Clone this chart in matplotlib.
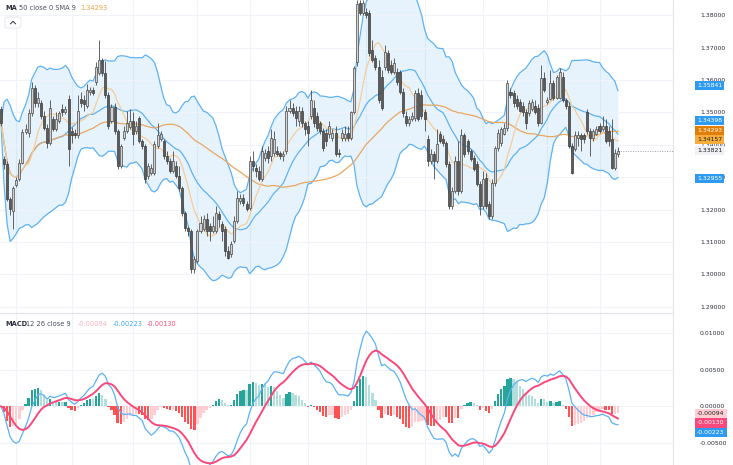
import numpy as np
import pandas as pd
import matplotlib
matplotlib.use("Agg")
import matplotlib.pyplot as plt
from matplotlib.transforms import blended_transform_factory
from matplotlib.patches import FancyBboxPatch
from matplotlib.lines import Line2D

# candles, oldest first
opens = [1.3512, 1.3357, 1.3342, 1.3233, 1.3196, 1.3277, 1.3295, 1.3345, 1.3441, 1.3438,
         1.3497, 1.3574, 1.3528, 1.3528, 1.3490, 1.3453, 1.3407, 1.3481, 1.3450, 1.3475,
         1.3512, 1.3500, 1.3543, 1.3444, 1.3438, 1.3429, 1.3543, 1.3537, 1.3521, 1.3562,
         1.3568, 1.3593, 1.3621, 1.3661, 1.3621, 1.3553, 1.3475, 1.3518, 1.3444, 1.3336,
         1.3422, 1.3444, 1.3456, 1.3475, 1.3444, 1.3484, 1.3413, 1.3398, 1.3305, 1.3314,
         1.3314, 1.3398, 1.3419, 1.3413, 1.3366, 1.3351, 1.3320, 1.3336, 1.3305, 1.3267,
         1.3190, 1.3143, 1.3134, 1.3016, 1.3041, 1.3134, 1.3140, 1.3171, 1.3150, 1.3134,
         1.3134, 1.3187, 1.3156, 1.3140, 1.3072, 1.3063, 1.3103, 1.3165, 1.3227, 1.3236,
         1.3218, 1.3205, 1.3351, 1.3329, 1.3320, 1.3295, 1.3360, 1.3382, 1.3366, 1.3376,
         1.3382, 1.3376, 1.3366, 1.3382, 1.3506, 1.3515, 1.3506, 1.3475, 1.3506, 1.3466,
         1.3459, 1.3490, 1.3515, 1.3490, 1.3466, 1.3444, 1.3438, 1.3435, 1.3422, 1.3438,
         1.3376, 1.3422, 1.3422, 1.3438, 1.3422, 1.3500, 1.3655, 1.3838, 1.3807, 1.3810,
         1.3807, 1.3692, 1.3667, 1.3639, 1.3608, 1.3639, 1.3683, 1.3646, 1.3624, 1.3624,
         1.3624, 1.3562, 1.3490, 1.3466, 1.3481, 1.3484, 1.3559, 1.3553, 1.3500, 1.3419,
         1.3351, 1.3373, 1.3351, 1.3435, 1.3419, 1.3407, 1.3342, 1.3212, 1.3258, 1.3351,
         1.3258, 1.3429, 1.3413, 1.3382, 1.3360, 1.3342, 1.3280, 1.3212, 1.3298, 1.3218,
         1.3181, 1.3283, 1.3391, 1.3407, 1.3435, 1.3453, 1.3562, 1.3559, 1.3543, 1.3531,
         1.3521, 1.3500, 1.3497, 1.3512, 1.3521, 1.3515, 1.3469, 1.3605, 1.3531, 1.3543,
         1.3590, 1.3546, 1.3546, 1.3608, 1.3537, 1.3521, 1.3398, 1.3388, 1.3422, 1.3429,
         1.3429, 1.3500, 1.3444, 1.3422, 1.3435, 1.3459, 1.3450, 1.3459, 1.3444, 1.3419,
         1.3329, 1.3373]
highs = [1.3521, 1.3366, 1.3351, 1.3239, 1.3273, 1.3301, 1.3357, 1.3450, 1.3463, 1.3512,
         1.3593, 1.3584, 1.3562, 1.3537, 1.3506, 1.3463, 1.3537, 1.3490, 1.3500, 1.3506,
         1.3525, 1.3521, 1.3553, 1.3456, 1.3450, 1.3553, 1.3562, 1.3553, 1.3587, 1.3580,
         1.3580, 1.3655, 1.3723, 1.3667, 1.3658, 1.3562, 1.3525, 1.3528, 1.3450, 1.3404,
         1.3459, 1.3506, 1.3512, 1.3500, 1.3475, 1.3490, 1.3419, 1.3404, 1.3345, 1.3342,
         1.3413, 1.3469, 1.3444, 1.3419, 1.3382, 1.3360, 1.3382, 1.3351, 1.3336, 1.3273,
         1.3196, 1.3150, 1.3140, 1.3057, 1.3140, 1.3181, 1.3184, 1.3190, 1.3159, 1.3181,
         1.3212, 1.3196, 1.3165, 1.3150, 1.3088, 1.3103, 1.3181, 1.3258, 1.3249, 1.3249,
         1.3227, 1.3366, 1.3382, 1.3342, 1.3336, 1.3398, 1.3388, 1.3398, 1.3450, 1.3444,
         1.3398, 1.3382, 1.3382, 1.3521, 1.3537, 1.3528, 1.3521, 1.3521, 1.3518, 1.3475,
         1.3475, 1.3568, 1.3537, 1.3500, 1.3475, 1.3453, 1.3450, 1.3475, 1.3450, 1.3459,
         1.3388, 1.3450, 1.3459, 1.3459, 1.3506, 1.3642, 1.3847, 1.3847, 1.3847, 1.3822,
         1.3816, 1.3723, 1.3677, 1.3661, 1.3630, 1.3708, 1.3692, 1.3661, 1.3667, 1.3636,
         1.3630, 1.3574, 1.3506, 1.3490, 1.3500, 1.3568, 1.3574, 1.3568, 1.3512, 1.3429,
         1.3388, 1.3382, 1.3450, 1.3444, 1.3429, 1.3413, 1.3351, 1.3270, 1.3366, 1.3413,
         1.3450, 1.3438, 1.3419, 1.3388, 1.3370, 1.3351, 1.3289, 1.3320, 1.3314, 1.3227,
         1.3295, 1.3398, 1.3450, 1.3456, 1.3469, 1.3599, 1.3574, 1.3568, 1.3553, 1.3543,
         1.3531, 1.3512, 1.3537, 1.3543, 1.3537, 1.3525, 1.3646, 1.3624, 1.3549, 1.3630,
         1.3599, 1.3615, 1.3636, 1.3624, 1.3546, 1.3531, 1.3407, 1.3444, 1.3444, 1.3438,
         1.3438, 1.3512, 1.3453, 1.3450, 1.3459, 1.3469, 1.3490, 1.3481, 1.3459, 1.3481,
         1.3388, 1.3394]
lows = [1.3459, 1.3326, 1.3227, 1.3184, 1.3140, 1.3270, 1.3289, 1.3342, 1.3432, 1.3425,
        1.3490, 1.3518, 1.3518, 1.3481, 1.3447, 1.3391, 1.3401, 1.3444, 1.3444, 1.3469,
        1.3490, 1.3494, 1.3336, 1.3407, 1.3422, 1.3422, 1.3518, 1.3506, 1.3515, 1.3553,
        1.3553, 1.3584, 1.3615, 1.3612, 1.3546, 1.3450, 1.3469, 1.3432, 1.3326, 1.3329,
        1.3416, 1.3438, 1.3450, 1.3401, 1.3432, 1.3407, 1.3388, 1.3283, 1.3295, 1.3308,
        1.3308, 1.3391, 1.3413, 1.3357, 1.3342, 1.3314, 1.3314, 1.3298, 1.3258, 1.3181,
        1.3134, 1.3119, 1.3004, 1.3004, 1.3035, 1.3128, 1.3134, 1.3119, 1.3103, 1.3128,
        1.3128, 1.3146, 1.3103, 1.3057, 1.3047, 1.3054, 1.3097, 1.3159, 1.3218, 1.3212,
        1.3196, 1.3199, 1.3320, 1.3301, 1.3289, 1.3289, 1.3351, 1.3345, 1.3351, 1.3366,
        1.3366, 1.3357, 1.3351, 1.3373, 1.3497, 1.3490, 1.3459, 1.3459, 1.3456, 1.3429,
        1.3398, 1.3481, 1.3456, 1.3444, 1.3435, 1.3382, 1.3398, 1.3422, 1.3413, 1.3366,
        1.3363, 1.3413, 1.3413, 1.3413, 1.3416, 1.3494, 1.3642, 1.3801, 1.3801, 1.3791,
        1.3673, 1.3655, 1.3630, 1.3528, 1.3509, 1.3630, 1.3621, 1.3618, 1.3618, 1.3584,
        1.3556, 1.3487, 1.3459, 1.3459, 1.3475, 1.3475, 1.3475, 1.3481, 1.3444, 1.3336,
        1.3342, 1.3295, 1.3345, 1.3407, 1.3398, 1.3333, 1.3202, 1.3202, 1.3252, 1.3246,
        1.3252, 1.3363, 1.3373, 1.3351, 1.3320, 1.3273, 1.3184, 1.3202, 1.3202, 1.3171,
        1.3171, 1.3273, 1.3382, 1.3398, 1.3429, 1.3444, 1.3546, 1.3518, 1.3512, 1.3500,
        1.3490, 1.3450, 1.3490, 1.3506, 1.3494, 1.3459, 1.3463, 1.3562, 1.3525, 1.3537,
        1.3537, 1.3540, 1.3540, 1.3531, 1.3512, 1.3391, 1.3311, 1.3382, 1.3398, 1.3382,
        1.3407, 1.3435, 1.3366, 1.3413, 1.3429, 1.3438, 1.3444, 1.3407, 1.3398, 1.3326,
        1.3323, 1.3363]
closes = [1.3469, 1.3342, 1.3233, 1.3202, 1.3267, 1.3292, 1.3345, 1.3441, 1.3450, 1.3497,
          1.3574, 1.3528, 1.3546, 1.3490, 1.3453, 1.3407, 1.3515, 1.3450, 1.3481, 1.3497,
          1.3500, 1.3512, 1.3388, 1.3429, 1.3429, 1.3506, 1.3528, 1.3525, 1.3568, 1.3568,
          1.3559, 1.3639, 1.3661, 1.3621, 1.3553, 1.3459, 1.3518, 1.3444, 1.3336, 1.3398,
          1.3444, 1.3469, 1.3475, 1.3435, 1.3459, 1.3413, 1.3398, 1.3295, 1.3336, 1.3329,
          1.3404, 1.3429, 1.3435, 1.3366, 1.3351, 1.3320, 1.3351, 1.3305, 1.3267, 1.3190,
          1.3143, 1.3134, 1.3016, 1.3047, 1.3134, 1.3159, 1.3171, 1.3134, 1.3134, 1.3150,
          1.3190, 1.3171, 1.3134, 1.3072, 1.3051, 1.3094, 1.3165, 1.3236, 1.3236, 1.3221,
          1.3202, 1.3351, 1.3336, 1.3320, 1.3295, 1.3382, 1.3376, 1.3360, 1.3422, 1.3419,
          1.3373, 1.3366, 1.3373, 1.3506, 1.3515, 1.3497, 1.3484, 1.3506, 1.3466, 1.3450,
          1.3438, 1.3537, 1.3466, 1.3453, 1.3444, 1.3391, 1.3413, 1.3459, 1.3438, 1.3373,
          1.3373, 1.3438, 1.3435, 1.3422, 1.3500, 1.3636, 1.3835, 1.3807, 1.3838, 1.3801,
          1.3683, 1.3661, 1.3639, 1.3537, 1.3515, 1.3686, 1.3630, 1.3624, 1.3652, 1.3593,
          1.3562, 1.3497, 1.3466, 1.3481, 1.3490, 1.3559, 1.3481, 1.3490, 1.3481, 1.3351,
          1.3373, 1.3351, 1.3404, 1.3413, 1.3407, 1.3342, 1.3212, 1.3258, 1.3351, 1.3258,
          1.3429, 1.3373, 1.3382, 1.3357, 1.3326, 1.3280, 1.3212, 1.3295, 1.3212, 1.3181,
          1.3283, 1.3391, 1.3438, 1.3450, 1.3453, 1.3590, 1.3553, 1.3528, 1.3521, 1.3506,
          1.3500, 1.3466, 1.3528, 1.3531, 1.3500, 1.3469, 1.3605, 1.3568, 1.3537, 1.3590,
          1.3546, 1.3608, 1.3624, 1.3537, 1.3521, 1.3398, 1.3314, 1.3429, 1.3429, 1.3419,
          1.3419, 1.3444, 1.3422, 1.3444, 1.3450, 1.3444, 1.3459, 1.3413, 1.3413, 1.3329,
          1.3376, 1.3382]

price_ticks = [1.29, 1.30, 1.31, 1.32, 1.33, 1.34, 1.35, 1.36, 1.37, 1.38]
macd_ticks = [0.01, 0.005, 0.0, -0.005]
# candle index of the vertical (time) grid lines
time_grid = [5, 23, 43, 64, 81, 100, 119, 138, 157, 178, 195]

# values printed in the price-scale labels and legends
bb_upper_lbl, bb_basis_lbl, bb_lower_lbl = 1.35841, 1.34398, 1.32955
ma_slow_lbl, ma_fast_lbl, last_lbl = 1.34293, 1.34157, 1.33821
hist_lbl, macd_lbl, signal_lbl = -0.00094, -0.00223, -0.00130

W, H = 733, 465
FS = 4.4

c = pd.Series(closes)
basis = c.rolling(20, min_periods=1).mean()
sd = c.rolling(20, min_periods=1).std(ddof=0)
upper = basis + 2 * sd
lower = basis - 2 * sd
ma_slow = c.rolling(50, min_periods=1).mean()
ma_fast = c.rolling(9, min_periods=1).mean()
macd = c.ewm(span=12, adjust=False).mean() - c.ewm(span=26, adjust=False).mean()
signal = macd.ewm(span=9, adjust=False).mean()
hist = macd - signal

fig = plt.figure(figsize=(W / 100, H / 100), dpi=100)
ax = fig.add_axes([0, 1 - 313 / H, 673 / W, 313 / H])
ax2 = fig.add_axes([0, 0, 673 / W, 151 / H], sharex=ax)

n = len(closes)
x = np.arange(n)
o = np.array(opens)
cl = np.array(closes)

# bollinger bands + moving averages
ax.fill_between(x, lower, upper, color="#2196f3", alpha=0.11, lw=0, zorder=1)
for band in (upper, basis, lower):
    ax.plot(x, band, color="#5fb2f4", lw=0.9, zorder=2)
ax.plot(x, ma_slow, color="#e9a762", lw=0.9, zorder=2)
ax.plot(x, ma_fast, color="#f6cd97", lw=0.9, zorder=2)

# candles
up = cl >= o
body_lo = np.minimum(o, cl)
body_h = np.maximum(np.abs(cl - o), 0.00008)
ax.vlines(x, lows, highs, color="#4a4a4a", lw=0.6, zorder=3)
ax.bar(x[up], body_h[up], bottom=body_lo[up], width=0.66, color="#d2d2d2",
       edgecolor="#4a4a4a", lw=0.5, zorder=4)
ax.bar(x[~up], body_h[~up], bottom=body_lo[~up], width=0.66, color="#5b5b5b",
       edgecolor="#3c3c3c", lw=0.5, zorder=4)

step = 616 / (n - 1)
xr = 672 / step - 1 / step
ax.set_xlim(-1 / step, xr)
ax.hlines(closes[-1], n - 1, xr, colors="#9a9ea8", linestyles=(0, (1, 1.5)), lw=0.7, zorder=2)
ax.set_ylim(1.28812, 1.3847)

# macd pane
hcols = []
for i, h in enumerate(hist):
    prev = hist.iloc[i - 1] if i > 0 else h
    if h >= 0:
        hcols.append("#26a69a" if h >= prev else "#b2dfdb")
    else:
        hcols.append("#ff5252" if h < prev else "#ffcdd2")
ax2.bar(x, hist, width=0.75, color=hcols, zorder=2)
ax2.plot(x, macd, color="#5db1f5", lw=0.9, zorder=3)
ax2.plot(x, signal, color="#f9487c", lw=1.4, zorder=4)
ax2.set_ylim(-0.00797, 0.01257)

for a, ticks in ((ax, price_ticks), (ax2, macd_ticks)):
    a.set_yticks(ticks)
    a.set_yticklabels([f"{t:.5f}" for t in ticks])
    a.yaxis.tick_right()
    a.tick_params(axis="y", length=0, pad=19.4, labelsize=FS, labelcolor="#2a2e39")
    a.tick_params(axis="x", bottom=False, labelbottom=False)
    a.grid(axis="y", color="#f0f3fa", lw=0.8, zorder=0)
    for g in time_grid:
        a.axvline(g, color="#f0f3fa", lw=0.8, zorder=0)
    for s in ("left", "top", "bottom"):
        a.spines[s].set_visible(False)
    a.spines["right"].set_color("#e0e3eb")
    a.spines["right"].set_linewidth(0.8)
    a.set_facecolor("white")
ax.spines["bottom"].set_visible(True)
ax.spines["bottom"].set_color("#e0e3eb")
ax.spines["bottom"].set_linewidth(0.8)


def side_labels(a, items, upward):
    tr = a.transData
    ys = [tr.transform((0, v))[1] for v, _, _ in items]
    order = np.argsort(ys)
    if not upward:
        order = order[::-1]
    placed = {}
    prev = None
    for k in order:
        y = ys[k]
        if prev is not None:
            y = max(y, prev + 9.6) if upward else min(y, prev - 9.6)
        placed[k] = y
        prev = y
    blend = blended_transform_factory(a.transAxes, a.transData)
    for k, (v, bg, fg) in enumerate(items):
        yd = tr.inverted().transform((0, placed[k]))[1]
        a.text(697 / 673, yd, f"{v:.5f}", transform=blend, ha="left", va="center",
               fontsize=FS, color=fg, clip_on=False, zorder=6,
               bbox=dict(boxstyle="square,pad=0.35", fc=bg, ec="none"))


side_labels(ax, [(bb_upper_lbl, "#2f9bf0", "white"),
                 (bb_basis_lbl, "#2f9bf0", "white"),
                 (ma_slow_lbl, "#e27d06", "white"),
                 (ma_fast_lbl, "#f7ad3c", "#1e1e1e"),
                 (last_lbl, "#eef0f4", "#1e1e1e"),
                 (bb_lower_lbl, "#2f9bf0", "white")], upward=True)
side_labels(ax2, [(hist_lbl, "#ffcdd2", "#1e1e1e"),
                  (signal_lbl, "#f9487c", "white"),
                  (macd_lbl, "#2f9bf0", "white")], upward=False)

# legends
def ftext(px, py, s, color="#2a2e39", weight="normal"):
    fig.text(px / W, 1 - py / H, s, fontsize=4.8, color=color, weight=weight,
             ha="left", va="center")


ftext(5, 8, "MA", weight="bold")
ftext(19, 8, "50 close 0 SMA 9", color="#4a4e59")
ftext(80, 8, f"{ma_slow_lbl:.5f}", color="#f0a040")
ftext(5, 324, "MACD", weight="bold")
ftext(25.5, 324, "12 26 close 9", color="#4a4e59")
ftext(78, 324, f"{hist_lbl:.5f}", color="#f8b4c0")
ftext(113, 324, f"{macd_lbl:.5f}", color="#42a5f5")
ftext(147, 324, f"{signal_lbl:.5f}", color="#f7527b")

# collapse button
fig.patches.append(FancyBboxPatch((5 / W, 1 - 28 / H), 16 / W, 11 / H,
                                  boxstyle="round,pad=0,rounding_size=0.004",
                                  transform=fig.transFigure, fc="white",
                                  ec="#e0e3eb", lw=0.6))
fig.lines.append(Line2D([10.5 / W, 13 / W, 15.5 / W],
                        [1 - 23.8 / H, 1 - 21.3 / H, 1 - 23.8 / H],
                        transform=fig.transFigure, color="#2a2e39", lw=0.7))

fig.savefig("out.png", dpi=100, facecolor="white")
